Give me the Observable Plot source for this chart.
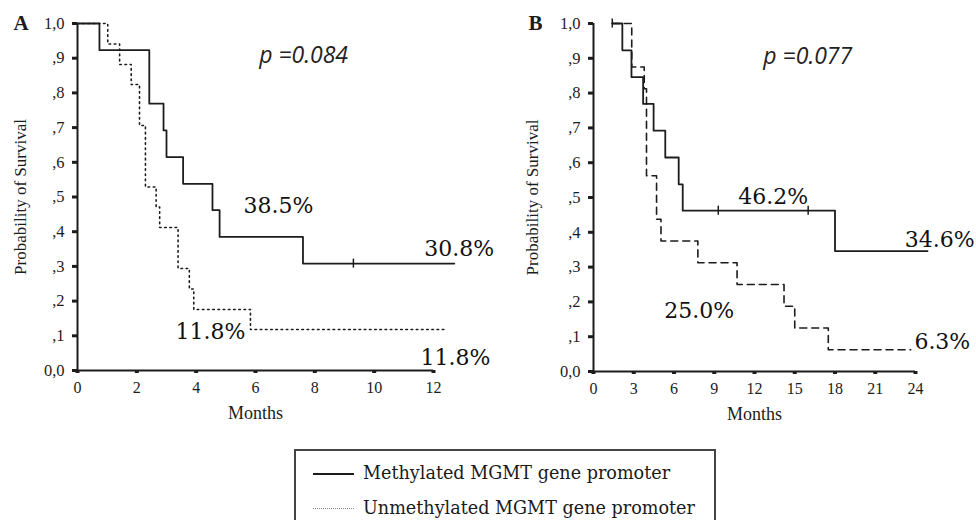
<!DOCTYPE html>
<html>
<head>
<meta charset="utf-8">
<script src="https://cdn.jsdelivr.net/npm/d3@7"></script>
<script src="https://cdn.jsdelivr.net/npm/@observablehq/plot@0.6"></script>
<style>
  html, body { margin: 0; padding: 0; background: #fff; }
  #wrap { position: relative; width: 976px; height: 520px; overflow: hidden; background: #fff; }
  .panel { position: absolute; top: 0; }
  #legend { position: absolute; left: 294px; top: 449px; width: 422px; height: 100px;
            border: 2px solid #444; box-sizing: border-box; color: #1a1a1a;
            font-family: "DejaVu Serif", serif; font-size: 17.6px; }
  .sample { position: absolute; left: 17px; width: 41px; height: 0; }
  .ltext { position: absolute; left: 67px; line-height: 20px; white-space: nowrap; }
</style>
</head>
<body>
<div id="wrap">
  <div id="panelA" class="panel" style="left:0px"></div>
  <div id="panelB" class="panel" style="left:488px"></div>
  <div id="legend"></div>
</div>
<script>
// ---------- data ----------
const yTicks = [0, 0.1, 0.2, 0.3, 0.4, 0.5, 0.6, 0.7, 0.8, 0.9, 1.0];
const yTickLabels = ["0,0", ",1", ",2", ",3", ",4", ",5", ",6", ",7", ",8", ",9", "1,0"];
const xTicksA = [0, 2, 4, 6, 8, 10, 12];
const xTicksB = [0, 3, 6, 9, 12, 15, 18, 21, 24];

const seriesNames = ["Methylated MGMT gene promoter", "Unmethylated MGMT gene promoter"];

// Panel A
const monthsA_meth = [0, 0.74, 2.42, 2.9, 3.0, 3.56, 4.55, 4.79, 7.6, 12.7];
const survA_meth   = [1, 0.923, 0.769, 0.692, 0.615, 0.538, 0.462, 0.385, 0.308, 0.308];
const monthsA_unmeth = [0, 1.02, 1.42, 1.81, 2.09, 2.29, 2.65, 2.77, 3.39, 3.77, 3.92, 5.83, 12.46];
const survA_unmeth   = [1, 0.941, 0.882, 0.824, 0.706, 0.529, 0.471, 0.412, 0.294, 0.235, 0.176, 0.118, 0.118];
const censorA_months = [9.3];
const censorA_surv   = [0.308];
const pA = "p =0.084";
const pctTextA = ["38.5%", "30.8%", "11.8%", "11.8%"];
const pctXA    = [6.77, 12.87, 4.48, 12.74];
const pctYA    = [0.475, 0.349, 0.112, 0.035];

// Panel B
const monthsB_meth = [1.4, 2.15, 2.83, 3.7, 4.48, 5.35, 6.35, 6.65, 18.0, 24.9];
const survB_meth   = [1, 0.923, 0.846, 0.769, 0.692, 0.615, 0.538, 0.462, 0.346, 0.346];
const monthsB_unmeth = [1.4, 2.85, 3.78, 3.95, 4.7, 5.03, 7.78, 10.7, 14.2, 15.0, 17.5, 23.65];
const survB_unmeth   = [1, 0.875, 0.8125, 0.5625, 0.4375, 0.375, 0.3125, 0.25, 0.1875, 0.125, 0.0625, 0.0625];
const censorB_months = [1.4, 9.3, 16.0];
const censorB_surv   = [1, 0.462, 0.462];
const pB = "p =0.077";
const pctTextB = ["46.2%", "34.6%", "25.0%", "6.3%"];
const pctXB    = [13.4, 25.8, 7.88, 26.0];
const pctYB    = [0.503, 0.379, 0.175, 0.086];

const pXY = { A: [7.62, 0.908], B: [15.97, 0.905] };

// ---------- helpers ----------
const zip = (ms, ss) => ms.map((m, i) => ({ m, s: ss[i] }));
const INK = "#1c1c1c";

function panel(cfg) {
  const meth = zip(cfg.mMeth, cfg.sMeth);
  const unmeth = zip(cfg.mUn, cfg.sUn);
  const cens = zip(cfg.cM, cfg.cS);
  const pct = cfg.pctText.map((t, i) => ({ t, x: cfg.pctX[i], y: cfg.pctY[i] }));
  return Plot.plot({
    width: 488, height: 440,
    marginLeft: cfg.marginLeft, marginRight: cfg.marginRight,
    marginTop: 23, marginBottom: cfg.marginBottom,
    style: { overflow: "visible", background: "transparent", color: INK },
    x: { domain: [0, cfg.xmax] },
    y: { domain: [0, 1] },
    marks: [
      Plot.axisX({ ticks: cfg.xTicks, tickSize: 3, strokeWidth: 4, tickPadding: 8,
                   fontSize: 16, fontFamily: "Liberation Serif", label: null, stroke: INK, fill: INK }),
      Plot.axisY({ ticks: yTicks, tickFormat: d => yTickLabels[Math.round(d * 10)],
                   tickSize: 5, strokeWidth: 3, tickPadding: 8,
                   fontSize: 16.5, fontFamily: "Liberation Serif", label: null, stroke: INK, fill: INK }),
      Plot.ruleX([0], { y1: 0, y2: 1, strokeWidth: 2, stroke: INK }),
      Plot.ruleY([0], { x1: 0, x2: cfg.xmax, strokeWidth: 2, stroke: INK }),
      Plot.line(unmeth, { x: "m", y: "s", curve: "step-after", stroke: INK,
                          strokeWidth: cfg.unWidth, strokeDasharray: cfg.dash }),
      Plot.line(meth, { x: "m", y: "s", curve: "step-after", stroke: INK, strokeWidth: 1.8 }),
      Plot.ruleX(cens, { x: "m", y1: d => d.s - 0.013, y2: d => d.s + 0.013, stroke: INK, strokeWidth: 1.5 }),
      Plot.text(pct, { x: "x", y: "y", text: "t", fontSize: 22, fontFamily: "DejaVu Serif", fill: "#111" }),
      Plot.text([cfg.p], { x: () => cfg.pxy[0], y: () => cfg.pxy[1], text: d => d,
                           fontSize: 23, fontFamily: "Open Sans", fontWeight: 400, fontStyle: "italic", fill: "#222" }),
      Plot.text(["Probability of Survival"], { frameAnchor: "left", textAnchor: "middle", text: d => d, rotate: -90,
                           dx: cfg.ylabDx, fontSize: 17, fontFamily: "Liberation Serif", fill: INK }),
      Plot.text(["Months"], { frameAnchor: "bottom", text: d => d, dy: 48,
                           fontSize: 18, fontFamily: "Liberation Serif", fill: INK }),
      Plot.text([cfg.letter], { frameAnchor: "top-left", text: d => d, dx: cfg.letterDx, dy: -8,
                           fontSize: 21, fontWeight: "bold", fontFamily: "Liberation Serif", fill: INK })
    ]
  });
}

document.getElementById("panelA").append(panel({
  letter: "A", xmax: 12, xTicks: xTicksA, marginLeft: 77, marginRight: 55, marginBottom: 70,
  mMeth: monthsA_meth, sMeth: survA_meth, mUn: monthsA_unmeth, sUn: survA_unmeth,
  cM: censorA_months, cS: censorA_surv, pctText: pctTextA, pctX: pctXA, pctY: pctYA,
  p: pA, pxy: pXY.A, dash: "1.6,3.6", unWidth: 1.6, ylabDx: -57, letterDx: -64
}));

document.getElementById("panelB").append(panel({
  letter: "B", xmax: 24, xTicks: xTicksB, marginLeft: 105, marginRight: 61, marginBottom: 69,
  mMeth: monthsB_meth, sMeth: survB_meth, mUn: monthsB_unmeth, sUn: survB_unmeth,
  cM: censorB_months, cS: censorB_surv, pctText: pctTextB, pctX: pctXB, pctY: pctYB,
  p: pB, pxy: pXY.B, dash: "7,5", unWidth: 1.6, ylabDx: -61, letterDx: -65
}));

// ---------- legend ----------
const legend = document.getElementById("legend");
const styles = [
  { top: 22, border: "2px solid " + INK },
  { top: 57, border: "1px dotted #888" }
];
seriesNames.forEach((name, i) => {
  const s = document.createElement("div");
  s.className = "sample";
  s.style.top = styles[i].top + "px";
  s.style.borderTop = styles[i].border;
  legend.append(s);
  const t = document.createElement("div");
  t.className = "ltext";
  t.style.top = (styles[i].top - 10) + "px";
  t.textContent = name;
  legend.append(t);
});
</script>
</body>
</html>
